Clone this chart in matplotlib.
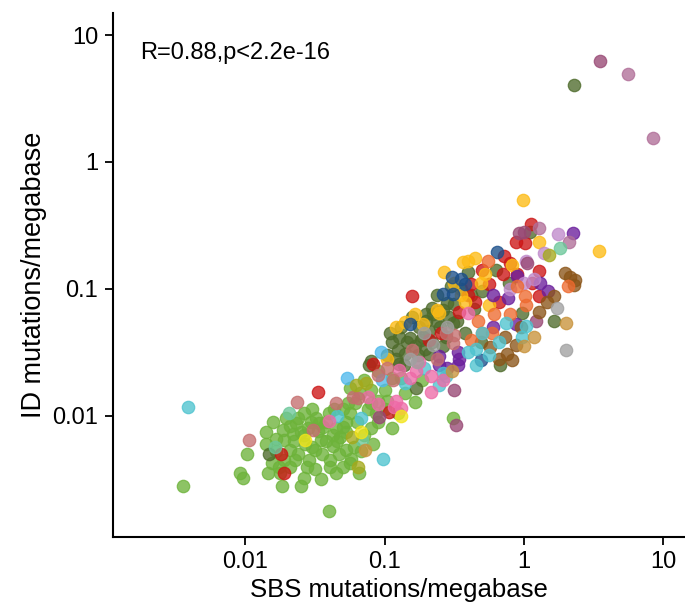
import numpy as np
import matplotlib
matplotlib.use("Agg")
import matplotlib.pyplot as plt
from matplotlib.ticker import FixedLocator, FixedFormatter, NullLocator

plt.rcParams['font.family'] = ['Liberation Sans', 'DejaVu Sans']

# log10(SBS mutations/Mb), log10(ID mutations/Mb) per tumour group
groups = {}

groups['lightgreen'] = [
    (-2.45, -2.55), (-1.99, -2.30), (-2.04, -2.45), (-2.02, -2.49), (-1.85, -2.13),
    (-1.85, -2.22), (-1.81, -2.37), (-1.84, -2.45), (-1.754, -2.45), (-1.735, -2.55),
    (-1.73, -2.11), (-1.72, -2.19), (-1.706, -2.02), (-1.634, -2.06), (-1.66, -2.14),
    (-1.60, -2.13), (-1.68, -2.27), (-1.62, -2.30), (-1.575, -2.22), (-1.54, -2.35),
    (-1.56, -2.40), (-1.58, -2.49), (-1.60, -2.55), (-1.527, -2.05), (-1.49, -2.02),
    (-1.455, -2.19), (-1.50, -2.27), (-1.44, -2.09), (-1.40, -2.75), (-1.395, -2.40),
    (-1.395, -2.35), (-1.37, -2.24), (-1.37, -2.15), (-1.32, -2.17), (-1.30, -2.09),
    (-1.275, -2.27), (-1.24, -2.34), (-1.25, -2.37), (-1.275, -2.05), (-1.185, -2.45),
    (-1.085, -2.22), (-1.10, -2.10), (-1.25, -1.98), (-1.215, -1.90), (-1.264, -1.90),
    (-0.78, -1.89), (-0.51, -2.02), (-1.78, -2.18), (-1.65, -2.20), (-1.55, -2.10),
    (-1.48, -2.12), (-1.42, -2.20), (-1.35, -2.10), (-1.33, -2.30), (-1.45, -2.30),
    (-1.52, -2.25), (-1.62, -2.02), (-1.58, -1.98), (-1.40, -1.98), (-1.20, -2.05),
    (-1.15, -2.15), (-1.12, -1.95), (-1.05, -2.05), (-1.00, -1.95), (-0.95, -2.10),
    (-0.90, -1.98), (-1.18, -1.82), (-1.10, -1.80), (-1.00, -1.80), (-0.95, -1.70),
    (-1.05, -1.65), (-0.85, -1.82), (-0.88, -1.70), (-1.30, -1.95), (-1.34, -2.20),
    (-1.68, -2.08), (-1.78, -2.28), (-1.72, -2.35), (-1.25, -1.78), (-1.15, -1.72),
    (-0.73, -1.72), (-1.47, -2.06), (-1.28, -2.13), (-1.17, -2.28), (-1.05, -1.88),
    (-1.76, -2.40), (-1.64, -2.35), (-1.50, -2.42), (-1.46, -2.50), (-1.35, -2.45),
    (-1.30, -2.40), (-1.42, -2.05), (-1.58, -2.15), (-1.68, -2.40), (-1.80, -2.05),
    (-1.52, -1.95), (-1.36, -1.95), (-1.10, -1.90), (-0.98, -1.88), (-1.06, -1.98),
    (-1.22, -2.25),
]
groups['darkolive'] = [
    (-1.83, -2.30), (-1.11, -1.60), (-1.10, -1.57), (-0.905, -1.48), (-0.894, -1.59),
    (-0.85, -1.51), (-0.82, -1.39), (-0.725, -1.38), (-0.894, -1.38), (-0.68, -1.51),
    (-0.775, -1.78), (-0.58, -1.17), (-0.51, -1.27), (-0.40, -0.87), (-0.105, -0.95),
    (-0.55, -1.115), (-0.356, -1.155), (-0.01, -1.19), (0.217, -1.25), (-0.31, -1.42),
    (-0.172, -1.60), (0.043, -0.55), (0.363, 0.604), (-0.75, -1.30), (-0.70, -1.25),
    (-0.65, -1.20), (-0.60, -1.30), (-0.78, -1.45), (-0.95, -1.42), (-0.98, -1.52),
    (-0.66, -1.42), (-0.62, -1.05), (-0.45, -1.00), (-0.30, -1.02), (-0.20, -0.85),
    (-0.48, -1.25), (-0.56, -1.38), (-0.86, -1.60), (-0.80, -1.22), (-0.71, -1.47),
    (-0.42, -1.35), (-0.88, -1.30), (-0.68, -1.33), (-0.92, -1.55), (-0.96, -1.35),
    (-0.84, -1.42), (-0.74, -1.40), (-0.62, -1.25), (-0.54, -1.22), (-0.50, -1.12),
    (-0.70, -1.20), (-0.76, -1.52), (-0.58, -1.45), (-0.66, -1.15), (-0.38, -1.05),
    (-0.52, -0.98),
]
groups['red'] = [
    (-1.745, -2.30), (-1.72, -2.45), (-1.477, -1.81), (-1.08, -1.59), (-0.965, -1.97),
    (-0.80, -1.06), (-0.143, -0.74), (-0.057, -0.63), (0.01, -0.64), (0.11, -0.86),
    (-0.148, -0.88), (-0.30, -0.85), (-0.38, -0.96), (-0.40, -1.05), (-0.18, -1.10),
    (0.11, -1.06), (-0.464, -1.18), (-0.595, -1.35), (0.055, -0.485), (-0.10, -0.80),
    (-0.05, -0.88), (-0.25, -0.96), (-0.35, -1.10), (-0.68, -1.40), (0.06, -0.95),
]
groups['gold'] = [
    (-0.98, -1.55), (-0.855, -1.26), (-0.727, -1.28), (-0.61, -1.19), (-0.57, -0.87),
    (-0.40, -0.78), (-0.35, -0.76), (0.11, -0.63), (-0.082, -0.81), (-0.31, -0.95),
    (-0.42, -1.10), (-0.25, -1.13), (-0.62, -1.17), (-0.005, -0.30), (0.537, -0.70),
    (-0.45, -1.05), (-0.44, -0.79), (-0.92, -1.30), (-0.78, -1.20), (-0.50, -0.95),
    (-0.28, -0.88),
]
groups['darkblue'] = [
    (-0.815, -1.28), (-0.515, -0.91), (-0.195, -0.71), (-0.42, -0.96), (-0.58, -1.04),
    (-0.51, -1.04), (-0.31, -1.56), (-0.45, -0.92),
]
groups['purple'] = [
    (-0.61, -1.53), (-0.61, -1.60), (-0.475, -1.50), (-0.475, -1.60), (-0.22, -1.05),
    (-0.11, -1.07), (0.12, -0.95), (0.176, -1.02), (-0.22, -1.30), (-0.053, -1.28),
    (-0.464, -1.55), (0.35, -0.56), (-0.05, -0.90), (-0.55, -1.62),
]
groups['lightpurple'] = [
    (0.147, -0.72), (0.0, -0.95), (0.248, -0.57), (0.074, -0.92), (0.014, -0.78),
    (-0.10, -1.00),
]
groups['mauve'] = [
    (0.547, 0.795), (-1.04, -2.01), (-0.50, -1.80), (-0.487, -2.07), (0.026, -0.80),
    (0.086, -1.25), (0.0, -0.55), (-0.034, -0.56),
]
groups['lightmauve'] = [
    (0.746, 0.693), (0.927, 0.187), (0.11, -0.52), (0.325, -0.63),
]
groups['brown'] = [
    (0.217, -1.06), (0.17, -1.10), (0.11, -1.18), (-0.135, -1.38), (-0.057, -1.44),
    (-0.24, -1.46), (-0.12, -1.51), (-0.082, -1.56), (0.296, -0.875), (0.33, -0.91),
    (0.366, -0.93), (0.36, -0.97), (-0.02, -1.30), (-0.18, -1.55),
]
groups['orange'] = [
    (-0.26, -0.78), (0.01, -1.06), (0.014, -1.13), (-0.30, -1.35), (-0.215, -1.20),
    (-0.38, -1.40), (0.32, -0.98), (-0.23, -1.35), (-0.10, -1.20), (-0.33, -1.25),
    (-0.05, -0.98),
]
groups['cyan'] = [
    (-2.409, -1.93), (-1.34, -2.00), (-1.17, -2.02), (-1.01, -2.34), (-0.85, -1.745),
    (-0.56, -1.69), (-0.61, -1.76), (-0.13, -1.27), (0.014, -1.29), (-0.014, -1.38),
    (-0.18, -1.42), (-0.345, -1.47), (-0.25, -1.52), (-0.345, -1.60), (-0.58, -1.66),
    (-0.40, -1.50), (-0.30, -1.35), (-0.72, -1.62),
]
groups['lightblue'] = [
    (-1.27, -1.70), (-1.02, -1.72), (-1.026, -1.50),
]
groups['pink'] = [
    (-1.40, -2.04), (-1.05, -1.91), (-0.894, -1.64), (-0.775, -1.65), (-0.666, -1.69),
    (-0.666, -1.81), (-0.918, -1.88), (-0.93, -1.93), (-0.40, -1.19), (-0.88, -1.94),
    (-0.75, -1.58), (-0.82, -1.70), (-0.58, -1.72), (-1.12, -1.85),
]
groups['rose'] = [
    (-1.974, -2.19), (-1.632, -1.895), (-1.517, -2.11), (-1.35, -1.90), (-1.23, -1.85),
    (-1.19, -1.86), (-1.05, -1.68), (-0.94, -1.72), (-0.50, -1.365), (-0.51, -1.43),
    (-0.56, -1.35), (-0.80, -1.48), (-0.62, -1.55), (-0.98, -1.62),
]
groups['grey'] = [
    (-0.77, -1.58), (-0.65, -1.44), (0.24, -1.15), (0.30, -1.48), (-0.72, -1.35),
    (-0.55, -1.30), (-0.82, -1.55),
]
groups['tealgreen'] = [
    (-1.79, -2.25), (-1.687, -1.98), (-1.16, -2.19), (0.258, -0.68),
]
groups['tan'] = [
    (-1.137, -2.27), (0.074, -1.38), (0.0, -1.45), (0.30, -1.27), (-0.515, -1.65),
]
groups['oliveyellow'] = [
    (-1.19, -2.40), (-1.233, -2.17), (-1.204, -1.76), (-1.13, -1.745), (0.18, -0.73),
]
groups['brightyellow'] = [
    (-1.573, -2.19), (-1.166, -2.13), (-0.88, -2.00),
]

colors = {
    'lightgreen': '#6DB33A', 'darkolive': '#4E6B2B', 'red': '#CC1515',
    'gold': '#FDBB15', 'darkblue': '#1B4F8A', 'purple': '#6A1E9C',
    'lightpurple': '#C08ACB', 'mauve': '#984874', 'lightmauve': '#B06E98',
    'brown': '#8B5518', 'orange': '#EE6A2F', 'cyan': '#4EC3CF',
    'lightblue': '#4FB9EC', 'pink': '#EE6AA7', 'rose': '#C56E6E',
    'grey': '#A0A0A0', 'tealgreen': '#6CC79A', 'tan': '#C8923A',
    'oliveyellow': '#A5A91C', 'brightyellow': '#F3E51A',
}

fig = plt.figure(figsize=(6.85, 6.08), dpi=100)
ax = fig.add_axes([0.1645, 0.1173, 1 - 0.1645, 0.979 - 0.1173])

for name, pts in groups.items():
    arr = np.array(pts)
    ax.scatter(10 ** arr[:, 0], 10 ** arr[:, 1], s=80, color=colors[name],
               alpha=0.78, edgecolors=colors[name], linewidths=0.9, zorder=2)

ax.set_xscale('log')
ax.set_yscale('log')
ax.set_xlim(10 ** -2.953, 10 ** 1.158)
ax.set_ylim(10 ** -2.953, 10 ** 1.176)

ticks = [0.01, 0.1, 1, 10]
labels = ['0.01', '0.1', '1', '10']
for axis in (ax.xaxis, ax.yaxis):
    axis.set_major_locator(FixedLocator(ticks))
    axis.set_major_formatter(FixedFormatter(labels))
    axis.set_minor_locator(NullLocator())

ax.spines['top'].set_visible(False)
ax.spines['right'].set_visible(False)
ax.spines['left'].set_linewidth(1.5)
ax.spines['bottom'].set_linewidth(1.5)
ax.tick_params(length=6, width=1.3, labelsize=17, pad=4.5, colors='black')

ax.set_xlabel('SBS mutations/megabase', fontsize=18.5, labelpad=3.5)
ax.set_ylabel('ID mutations/megabase', fontsize=19.5, labelpad=3.5)

ax.text(0.0477, 0.923, 'R=0.88,p<2.2e-16', transform=ax.transAxes,
        fontsize=17, va='center', ha='left')

fig.savefig('out.png', dpi=100)
